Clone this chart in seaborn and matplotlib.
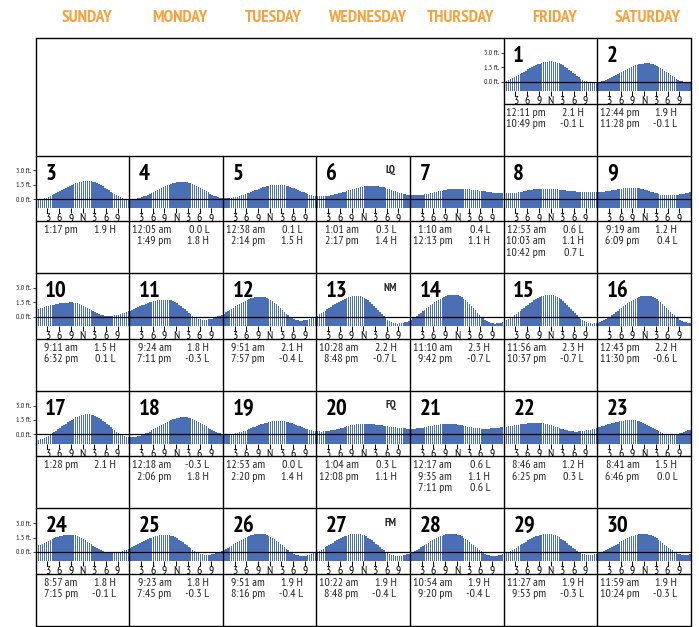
import numpy as np
import matplotlib
matplotlib.use("Agg")
import matplotlib.pyplot as plt
from matplotlib import font_manager as fm
import seaborn as sns

weekdays = ["SUNDAY", "MONDAY", "TUESDAY", "WEDNESDAY", "THURSDAY", "FRIDAY", "SATURDAY"]

# high / low tides as printed under each day
ext_day = [1, 1, 2, 2, 3, 4, 4, 5, 5, 6, 6, 7, 7, 8, 8, 8, 9, 9, 10, 10,
           11, 11, 12, 12, 13, 13, 14, 14, 15, 15, 16, 16, 17, 18, 18, 19, 19, 20, 20,
           21, 21, 21, 22, 22, 23, 23, 24, 24, 25, 25, 26, 26, 27, 27, 28, 28,
           29, 29, 30, 30]
ext_time = ["12:11 pm", "10:49 pm", "12:44 pm", "11:28 pm", "1:17 pm",
            "12:05 am", "1:49 pm", "12:38 am", "2:14 pm", "1:01 am", "2:17 pm",
            "1:10 am", "12:13 pm", "12:53 am", "10:03 am", "10:42 pm",
            "9:19 am", "6:09 pm", "9:11 am", "6:32 pm", "9:24 am", "7:11 pm",
            "9:51 am", "7:57 pm", "10:28 am", "8:48 pm", "11:10 am", "9:42 pm",
            "11:56 am", "10:37 pm", "12:43 pm", "11:30 pm", "1:28 pm",
            "12:18 am", "2:06 pm", "12:53 am", "2:20 pm", "1:04 am", "12:08 pm",
            "12:17 am", "9:35 am", "7:11 pm", "8:46 am", "6:25 pm", "8:41 am", "6:46 pm",
            "8:57 am", "7:15 pm", "9:23 am", "7:45 pm", "9:51 am", "8:16 pm",
            "10:22 am", "8:48 pm", "10:54 am", "9:20 pm", "11:27 am", "9:53 pm",
            "11:59 am", "10:24 pm"]
ext_ft = [2.1, -0.1, 1.9, -0.1, 1.9, 0.0, 1.8, 0.1, 1.5, 0.3, 1.4, 0.4, 1.1,
          0.6, 1.1, 0.7, 1.2, 0.4, 1.5, 0.1, 1.8, -0.3, 2.1, -0.4, 2.2, -0.7,
          2.3, -0.7, 2.3, -0.7, 2.2, -0.6, 2.1, -0.3, 1.8, 0.0, 1.4, 0.3, 1.1,
          0.6, 1.1, 0.6, 1.2, 0.3, 1.5, 0.0, 1.8, -0.1, 1.8, -0.3, 1.9, -0.4,
          1.9, -0.4, 1.9, -0.4, 1.9, -0.3, 1.9, -0.3]
ext_kind = ["H", "L", "H", "L", "H", "L", "H", "L", "H", "L", "H", "L", "H",
            "L", "H", "L", "H", "L", "H", "L", "H", "L", "H", "L", "H", "L",
            "H", "L", "H", "L", "H", "L", "H", "L", "H", "L", "H", "L", "H",
            "L", "H", "L", "H", "L", "H", "L", "H", "L", "H", "L", "H", "L",
            "H", "L", "H", "L", "H", "L", "H", "L"]

# tides just outside the month (not printed) so day 1 and day 30 have an edge
edge_day = [0, 31]
edge_time = ["10:10 pm", "12:30 pm"]
edge_ft = [-0.1, 1.9]

moon_day = [6, 13, 20, 27]
moon_label = ["LQ", "NM", "FQ", "FM"]

hour_ticks = [3, 6, 9, 12, 15, 18, 21]
hour_labels = ["3", "6", "9", "N", "3", "6", "9"]
ft_ticks = [0.0, 1.5, 3.0]
ft_labels = ["0.0 ft.", "1.5 ft.", "3.0 ft."]


def to_hours(s):
    hm, ap = s.split()
    h, m = map(int, hm.split(":"))
    return h % 12 + (12 if ap == "pm" else 0) + m / 60


# tide curve between the printed extremes (half-cosine between turns)
all_t = np.array([(d - 1) * 24 + to_hours(s)
                  for d, s in zip(edge_day[:1] + ext_day + edge_day[1:],
                                  edge_time[:1] + ext_time + edge_time[1:])])
all_h = np.array(edge_ft[:1] + ext_ft + edge_ft[1:])


def tide_at(t):
    i = np.searchsorted(all_t, t) - 1
    t0, t1, h0, h1 = all_t[i], all_t[i + 1], all_h[i], all_h[i + 1]
    frac = (t - t0) / (t1 - t0)
    return h0 + (h1 - h0) * (1 - np.cos(np.pi * frac)) / 2


# the original is set in a condensed face; use an installed narrow file if any
def weight_of(f):
    w = f.weight
    if isinstance(w, str):
        w = {"light": 300, "normal": 400, "regular": 400, "medium": 500,
             "semibold": 600, "bold": 700, "heavy": 800, "black": 900}.get(w.lower(), 400)
    return int(w)


def narrowness(f):
    txt = (f.name + " " + f.fname).lower().replace("-", "").replace("_", "")
    if "semicondensed" in txt or f.stretch == "semi-condensed":
        return 3
    if "narrow" in txt:
        return 0
    if "dejavu" in txt:
        return 2
    if "condensed" in txt or f.stretch in ("condensed", "extra-condensed"):
        return 1
    return 9


narrow = [f for f in fm.fontManager.ttflist
          if f.style == "normal" and "serif" not in f.name.lower().replace("sans", "")
          and "Mono" not in f.name and narrowness(f) < 9]
bold = sorted([f for f in narrow if weight_of(f) >= 600],
              key=lambda f: (narrowness(f), abs(weight_of(f) - 700)))
BOLD_FILE = bold[0].fname if bold else None
same = [f for f in narrow if bold and f.name == bold[0].name and weight_of(f) < 600]
reg = sorted(same or narrow, key=lambda f: (narrowness(f), abs(weight_of(f) - 400)))
REG_FILE = reg[0].fname if reg else None


def fp(size, heavy=False):
    path = BOLD_FILE if heavy else REG_FILE
    if path:
        return fm.FontProperties(fname=path, size=size)
    return fm.FontProperties(family="Liberation Sans", size=size * 0.9,
                             weight="bold" if heavy else "normal")


sns.set_style("white")
plt.rcParams["font.family"] = ["Liberation Sans", "DejaVu Sans"]

W, H = 699, 627
fig = plt.figure(figsize=(W / 100, H / 100), dpi=100)

X0, CW, TOP, RH = 35.7, 93.6, 38.0, 117.6
ZERO, PPF, FLOOR, YTOP = 43.6, 9.6, -0.95, 3.5
BLUE = "#4a6fb5"
centers = np.arange(0.25, 24, 0.5)


def px_axes(x, y, w, h):
    return fig.add_axes([x / W, 1 - (y + h) / H, w / W, h / H])


for d in range(1, 31):
    idx = d - 1 + 5
    r, c = idx // 7, idx % 7
    cl, ct = X0 + c * CW, TOP + r * RH
    y_top = ct + ZERO - YTOP * PPF
    ax = px_axes(cl, y_top, CW, (YTOP - FLOOR) * PPF)
    ax.patch.set_alpha(0)
    heights = tide_at((d - 1) * 24 + centers)
    sns.barplot(x=centers, y=heights - FLOOR, bottom=FLOOR, native_scale=True,
                color=BLUE, saturation=1, width=0.78, linewidth=0,
                errorbar=None, ax=ax)
    ax.axhline(0, color="black", lw=0.9, zorder=3)
    ax.set_xlim(0, 24)
    ax.set_ylim(FLOOR, YTOP)
    ax.set_xlabel("")
    ax.set_ylabel("")
    ax.set_xticks(hour_ticks, hour_labels, fontproperties=fp(8.5))
    ax.tick_params(axis="x", length=3.3, width=0.7, pad=0.3, colors="black",
                   bottom=True)
    for s in ["top", "right", "bottom"]:
        ax.spines[s].set_visible(False)
    if c == 0 or d == 1:
        ax.set_yticks(ft_ticks, ft_labels, fontproperties=fp(5.5))
        ax.tick_params(axis="y", length=2.5, width=0.6, pad=0.5, left=True)
        ax.spines["left"].set_color("#a83a3a")
        ax.spines["left"].set_linewidth(0.8)
        ax.spines["left"].set_bounds(FLOOR, 3.0)
    else:
        ax.set_yticks([])
        ax.spines["left"].set_visible(False)

# overlay for grid, headers and tide tables, in pixel coordinates
ov = fig.add_axes([0, 0, 1, 1], zorder=10)
ov.set_xlim(0, W)
ov.set_ylim(H, 0)
ov.axis("off")
ov.patch.set_alpha(0)

for c, name in enumerate(weekdays):
    ov.text(X0 + (c + 0.5) * CW + 4, 21.5, name, ha="center", va="baseline",
            fontproperties=fp(12.5 if BOLD_FILE else 11, heavy=True),
            color="#f5a23c")

for r in range(6):
    ov.plot([X0, X0 + 7 * CW], [TOP + r * RH] * 2, color="black", lw=1.0)
for r in range(5):
    cols = [0, 5, 6, 7] if r == 0 else range(8)
    for c in cols:
        ov.plot([X0 + c * CW] * 2, [TOP + r * RH, TOP + (r + 1) * RH],
                color="black", lw=1.0)

for d in range(1, 31):
    idx = d - 1 + 5
    r, c = idx // 7, idx % 7
    cl, ct = X0 + c * CW, TOP + r * RH
    ov.plot([cl, cl + CW], [ct + 65.5] * 2, color="black", lw=1.0)
    ov.text(cl + 9.5, ct + 24, str(d), ha="left", va="baseline",
            fontproperties=fp(16.5, heavy=True), color="black")
    if d in moon_day:
        ov.text(cl + 74, ct + 17.5, moon_label[moon_day.index(d)], ha="center",
                va="baseline", fontproperties=fp(8, heavy=True))
    k = 0
    for dd, tt, ff, kk in zip(ext_day, ext_time, ext_ft, ext_kind):
        if dd != d:
            continue
        y = ct + 77.5 + k * 11.3
        ov.text(cl + 42, y, tt, ha="right", va="baseline", fontproperties=fp(8.6))
        ov.text(cl + 80, y, f"{ff:.1f} {kk}", ha="right", va="baseline",
                fontproperties=fp(8.6))
        k += 1

fig.savefig("out.png", dpi=100)
